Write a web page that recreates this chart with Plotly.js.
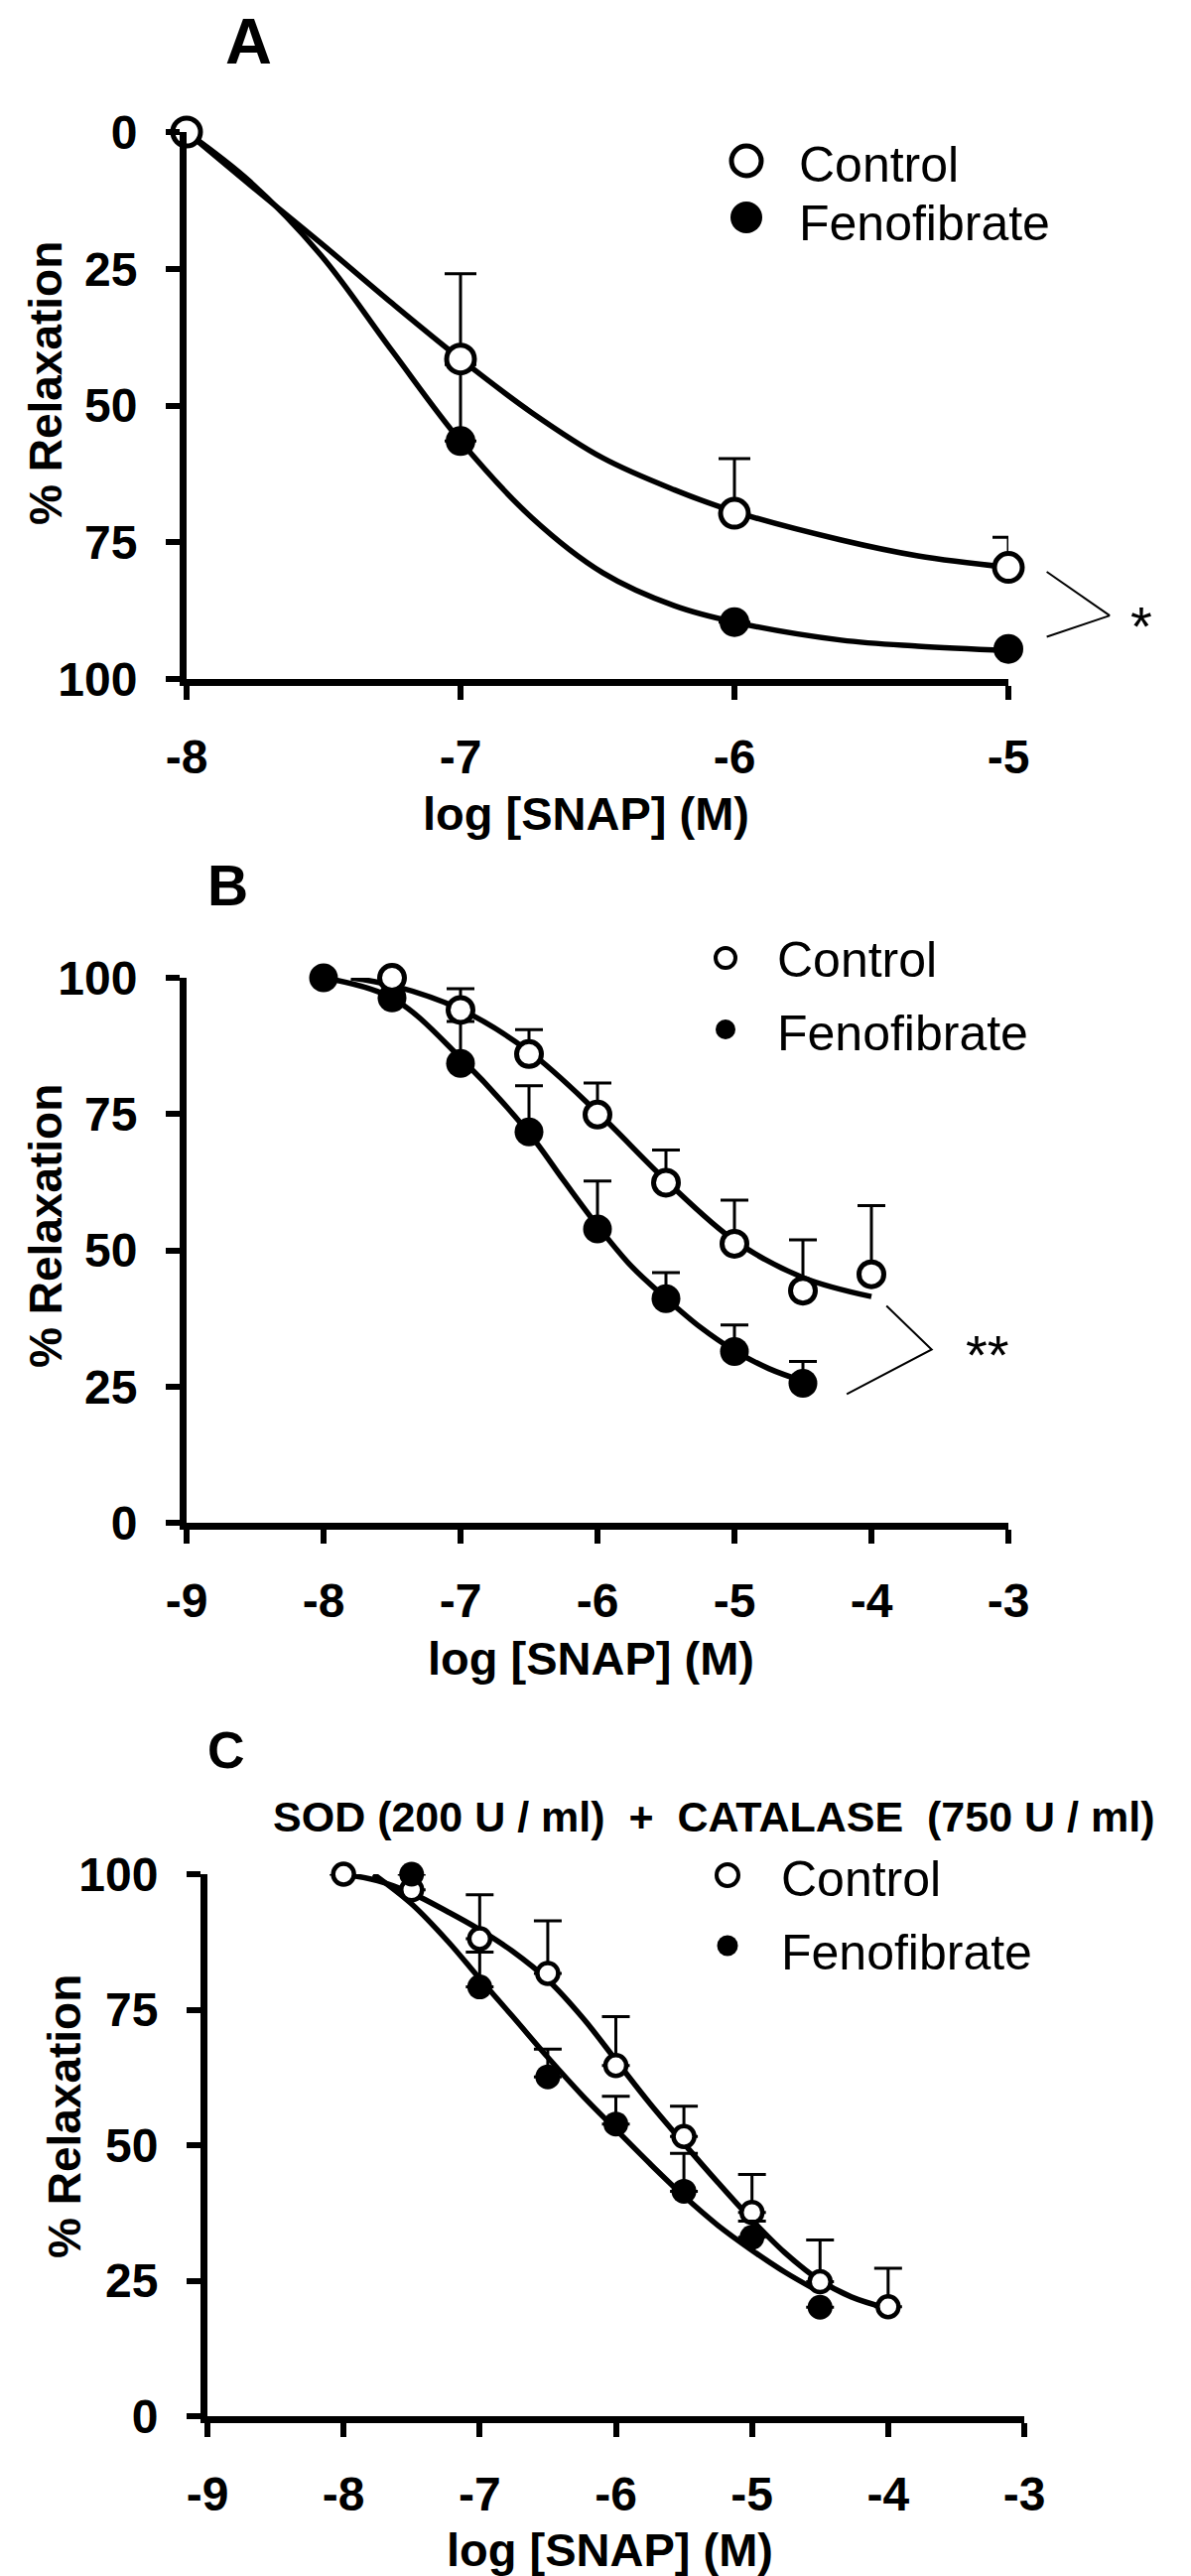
<!DOCTYPE html>
<html>
<head>
<meta charset="utf-8">
<script src="https://cdn.plot.ly/plotly-3.0.1.min.js"></script>
<style>html,body{margin:0;padding:0;background:#fff;}</style>
</head>
<body>
<div id="chart" style="width:1200px;height:2595px;"></div>
<script>
// ---------------- DATA ----------------
// Panel A
const xA = [-8, -7, -6, -5];
const ctrlA = [0, 41.5, 69.7, 79.6];
const ctrlA_err = [0, 15.6, 10.0, 5.5];
const fenoA = [0, 56.5, 89.6, 94.5];
const fenoA_err = [0, 14.0, 0, 0];
const curveA_x = [-8, -7.77, -7.51, -7.25, -7, -6.74, -6.48, -6.22, -6, -5.61, -5.33, -5];
const curveA_ctrl = [0, 9.6, 20.3, 31.3, 41.5, 51.3, 59.6, 65.4, 69.4, 74.6, 77.5, 79.6];
const curveA_feno = [0, 9.0, 22.5, 40.0, 56.5, 70.5, 80.6, 86.6, 89.6, 92.9, 94.0, 94.8];

// Panel B
const ctrlB_x = [-7.5, -7, -6.5, -6, -5.5, -5, -4.5, -4];
const ctrlB = [100, 94.1, 86.0, 74.9, 62.4, 51.2, 42.6, 45.6];
const ctrlB_err = [0, 3.9, 4.5, 5.8, 6.0, 8.0, 9.3, 12.6];
const fenoB_x = [-8, -7.5, -7, -6.5, -6, -5.5, -5, -4.5];
const fenoB = [100, 96.3, 84.3, 71.7, 53.9, 41.1, 31.4, 25.6];
const fenoB_err = [0, 0, 7.7, 8.5, 8.8, 4.8, 4.9, 4.0];
const curveB_ctrl_x = [-7.8, -7.5, -7, -6.5, -6, -5.5, -5, -4.5, -4];
const curveB_ctrl = [100, 98.6, 94.2, 86.5, 75.3, 62.8, 51.8, 45.0, 41.5];
const curveB_feno_x = [-8, -7.5, -7, -6.5, -6.25, -6, -5.75, -5.5, -5.25, -5, -4.75, -4.5];
const curveB_feno = [100, 96.3, 85.3, 71.5, 62.9, 54.5, 47.0, 41.2, 35.9, 31.6, 28.3, 26.0];

// Panel C (SOD + catalase)
const ctrlC_x = [-8, -7.5, -7, -6.5, -6, -5.5, -5, -4.5, -4];
const ctrlC = [100, 97.1, 88.1, 81.7, 64.7, 51.6, 37.6, 24.8, 20.2];
const ctrlC_err = [0, 0, 8.1, 9.7, 9.0, 5.6, 7.0, 7.7, 7.1];
const fenoC_x = [-7.5, -7, -6.5, -6, -5.5, -5, -4.5];
const fenoC = [100, 79.2, 62.6, 53.9, 41.5, 33.0, 20.1];
const fenoC_err = [0, 6.4, 5.1, 5.1, 7.0, 3.0, 0];
const curveC_ctrl_x = [-8, -7.75, -7.5, -7.23, -7.01, -6.76, -6.5, -6.24, -6, -5.75, -5.5, -5.25, -5, -4.76, -4.51, -4.27, -4.02];
const curveC_ctrl = [100, 98.8, 96.5, 93.0, 89.9, 85.8, 80.5, 73.4, 65.7, 57.7, 50.3, 43.1, 36.2, 30.2, 25.2, 22.0, 20.0];
const curveC_feno_x = [-7.78, -7.5, -7.23, -7.01, -6.76, -6.5, -6.24, -6, -5.75, -5.5, -5.25, -5, -4.76, -4.51];
const curveC_feno = [100, 94.5, 87.5, 81.0, 73.8, 66.2, 59.0, 52.9, 46.6, 40.6, 35.2, 30.6, 26.6, 23.0];

// Tick labels
const yTicks = [0, 25, 50, 75, 100];
const yTickText = ['0', '25', '50', '75', '100'];
const xTicksA = [-8, -7, -6, -5];
const xTickTextA = ['-8', '-7', '-6', '-5'];
const xTicksBC = [-9, -8, -7, -6, -5, -4, -3];
const xTickTextBC = ['-9', '-8', '-7', '-6', '-5', '-4', '-3'];

// Text
const seriesNames = ['Control', 'Fenofibrate'];
const xTitle = 'log [SNAP] (M)';
const yTitle = '% Relaxation';
const panelLetters = ['A', 'B', 'C'];
const subtitleC = 'SOD (200 U / ml)\u00a0 +\u00a0 CATALASE\u00a0 (750 U / ml)';

// Significance brackets (data coords)
const bracketA_x = [-4.86, -4.63, -4.86];
const bracketA_y = [80.4, 88.4, 92.3];
const bracketB_x = [-3.89, -3.56, -4.18];
const bracketB_y = [39.8, 31.8, 23.6];

// ---------------- LAYOUT HELPERS ----------------
const W = 1200, H = 2595;
const FONT = 'Liberation Sans, Arial, Helvetica, sans-serif';
const px = v => v / W;
const py = v => 1 - v / H;
const BLACK = '#000';

function yAxis(top, bottom, range, anchor) {
  return {
    domain: [py(bottom), py(top)], range: range, autorange: false, anchor: anchor,
    showline: true, linewidth: 7, linecolor: BLACK, mirror: false,
    ticks: 'outside', ticklen: 14, tickwidth: 6, tickcolor: BLACK,
    tickmode: 'array', tickvals: yTicks, ticktext: yTickText,
    tickfont: {family: FONT, size: 48, weight: 700, color: BLACK},
    ticklabelstandoff: 19,
    showgrid: false, zeroline: false, fixedrange: true
  };
}
function xAxis(left, right, range, anchor, tv, tt) {
  return {
    domain: [px(left), px(right)], range: range, autorange: false, anchor: anchor,
    showline: true, linewidth: 7, linecolor: BLACK,
    ticks: 'outside', ticklen: 14, tickwidth: 6, tickcolor: BLACK,
    tickmode: 'array', tickvals: tv, ticktext: tt,
    tickfont: {family: FONT, size: 48, weight: 700, color: BLACK},
    ticklabelstandoff: 16,
    showgrid: false, zeroline: false, fixedrange: true
  };
}

function curve(x, y, xa, ya) {
  return {x: x, y: y, xaxis: xa, yaxis: ya, type: 'scatter', mode: 'lines',
    line: {color: BLACK, width: 5.5, shape: 'spline', smoothing: 1},
    cliponaxis: false, showlegend: false, hoverinfo: 'skip'};
}
function points(x, y, err, xa, ya, filled, size, lw, capw, minus) {
  const e = {type: 'data', symmetric: false, color: BLACK, thickness: 3, width: capw, visible: true};
  if (minus) { e.arrayminus = err; e.array = err.map(() => 0); }
  else { e.array = err; e.arrayminus = err.map(() => 0); }
  return {x: x, y: y, xaxis: xa, yaxis: ya, type: 'scatter', mode: 'markers',
    marker: filled ? {symbol: 'circle', size: size, color: BLACK, line: {width: 0}}
                   : {symbol: 'circle', size: size, color: '#fff', line: {color: BLACK, width: lw}},
    error_y: e, cliponaxis: false, showlegend: false, hoverinfo: 'skip'};
}

const traces = [
  // Panel A
  curve(curveA_x, curveA_feno, 'x', 'y'),
  curve(curveA_x, curveA_ctrl, 'x', 'y'),
  points(xA, fenoA, fenoA_err, 'x', 'y', true, 30, 0, 16, true),
  points(xA, ctrlA, ctrlA_err, 'x', 'y', false, 28, 5, 16, true),
  // Panel B
  curve(curveB_feno_x, curveB_feno, 'x2', 'y2'),
  curve(curveB_ctrl_x, curveB_ctrl, 'x2', 'y2'),
  points(fenoB_x, fenoB, fenoB_err, 'x2', 'y2', true, 29, 0, 14, false),
  points(ctrlB_x, ctrlB, ctrlB_err, 'x2', 'y2', false, 25, 5, 14, false),
  // Panel C
  curve(curveC_feno_x, curveC_feno, 'x3', 'y3'),
  curve(curveC_ctrl_x, curveC_ctrl, 'x3', 'y3'),
  points(ctrlC_x, ctrlC, ctrlC_err, 'x3', 'y3', false, 21, 4.5, 14, false),
  points(fenoC_x, fenoC, fenoC_err, 'x3', 'y3', true, 25, 0, 14, false),
  // Bracket B (inside plot range)
  {x: bracketB_x, y: bracketB_y, xaxis: 'x2', yaxis: 'y2', type: 'scatter', mode: 'lines',
   line: {color: BLACK, width: 2}, cliponaxis: false, showlegend: false, hoverinfo: 'skip'}
];

// Panel geometry in pixels
const gA = {l: 188, r: 1016, t: 133, b: 684};
const gB = {l: 188, r: 1016, t: 985, b: 1534};
const gC = {l: 209, r: 1032, t: 1888, b: 2434};

const rangeA = [-8, -5];
const toDomA = v => (v - rangeA[0]) / (rangeA[1] - rangeA[0]);

const shapes = [];
// Bracket A (outside x range -> x domain reference)
for (let i = 0; i < bracketA_x.length - 1; i++) {
  shapes.push({type: 'line', xref: 'x domain', yref: 'y',
    x0: toDomA(bracketA_x[i]), y0: bracketA_y[i], x1: toDomA(bracketA_x[i + 1]), y1: bracketA_y[i + 1],
    line: {color: BLACK, width: 2}});
}
// Legend markers
function legendMarker(cx, cy, r, filled, lw) {
  return {type: 'circle', xref: 'paper', yref: 'paper', xsizemode: 'pixel', ysizemode: 'pixel',
    xanchor: px(cx), yanchor: py(cy), x0: -r, x1: r, y0: -r, y1: r,
    fillcolor: filled ? BLACK : '#fff', line: {color: BLACK, width: filled ? 0 : lw}};
}
shapes.push(legendMarker(752, 162, 15, false, 5));
shapes.push(legendMarker(752, 219, 16, true, 0));
shapes.push(legendMarker(731, 965, 10, false, 4));
shapes.push(legendMarker(731, 1037, 10, true, 0));
shapes.push(legendMarker(733, 1889, 11, false, 4));
shapes.push(legendMarker(733, 1960, 10.5, true, 0));

function txt(text, x, y, size, bold, opts) {
  return Object.assign({text: text, xref: 'paper', yref: 'paper', x: px(x), y: py(y),
    xanchor: 'center', yanchor: 'middle', showarrow: false,
    font: {family: FONT, size: size, weight: bold ? 700 : 400, color: BLACK}}, opts || {});
}
const annotations = [
  txt(panelLetters[0], 250, 42, 65, true),
  txt(panelLetters[1], 229, 892, 57, true),
  txt(panelLetters[2], 228, 1763, 52, true),
  txt(subtitleC, 719, 1830, 43, true),
  txt(yTitle, 46, 386, 46, true, {textangle: -90}),
  txt(yTitle, 46, 1235, 46, true, {textangle: -90}),
  txt(yTitle, 65, 2132, 46, true, {textangle: -90}),
  txt(xTitle, 590, 819, 47, true),
  txt(xTitle, 595, 1671, 47, true),
  txt(xTitle, 614, 2568, 47, true),
  txt(seriesNames[0], 803, 166, 50, false, {xanchor: 'left'}),
  txt(seriesNames[1], 803, 225, 50, false, {xanchor: 'left'}),
  txt(seriesNames[0], 781, 967, 50, false, {xanchor: 'left'}),
  txt(seriesNames[1], 781, 1041, 50, false, {xanchor: 'left'}),
  txt(seriesNames[0], 785, 1893, 50, false, {xanchor: 'left'}),
  txt(seriesNames[1], 785, 1967, 50, false, {xanchor: 'left'}),
  txt('*', 1150, 631, 56, false),
  txt('**', 995, 1364, 56, false)
];

const layout = {
  width: W, height: H, margin: {l: 0, r: 0, t: 0, b: 0},
  paper_bgcolor: '#fff', plot_bgcolor: 'rgba(0,0,0,0)', showlegend: false,
  xaxis: xAxis(gA.l, gA.r, rangeA, 'y', xTicksA, xTickTextA),
  yaxis: yAxis(gA.t, gA.b, [100, 0], 'x'),
  xaxis2: xAxis(gB.l, gB.r, [-9, -3], 'y2', xTicksBC, xTickTextBC),
  yaxis2: yAxis(gB.t, gB.b, [0, 100], 'x2'),
  xaxis3: xAxis(gC.l, gC.r, [-9, -3], 'y3', xTicksBC, xTickTextBC),
  yaxis3: yAxis(gC.t, gC.b, [0, 100], 'x3'),
  shapes: shapes, annotations: annotations
};

Plotly.newPlot('chart', traces, layout, {staticPlot: true, displayModeBar: false});
</script>
</body>
</html>
